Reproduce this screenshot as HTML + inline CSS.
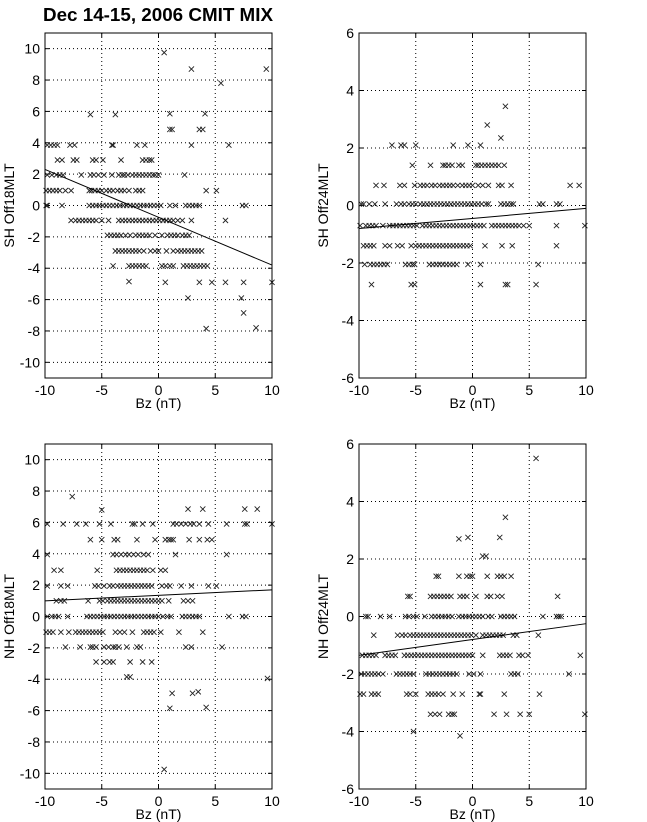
<!DOCTYPE html>
<html><head><meta charset="utf-8"><style>
html,body{margin:0;padding:0;background:#fff;}
svg{display:block;font-family:"Liberation Sans",Arial,sans-serif;}
</style></head><body>
<svg id="chart" width="647" height="822" viewBox="0 0 647 822" xmlns="http://www.w3.org/2000/svg">
<text x="43" y="21" font-size="18" font-weight="bold" textLength="230" lengthAdjust="spacingAndGlyphs">Dec 14-15, 2006 CMIT MIX</text>
</svg>
<script>
// ---------- Panel 1: SH Off18MLT ----------
const p1RowLevels=[3.85,2.9,1.95,0.95,0,-0.95,-1.9,-2.9,-3.85];
const p1RowXs=[
[-9.8,-9.5,-9.2,-8.9,-7.8,-7.4,-4.1,-4.0,-1.9,-1.2,2.9,6.2],
[-8.9,-8.5,-7.5,-7.2,-5.8,-5.5,-4.9,-3.3,-1.4,-1.1,-0.8,-0.6],
[-9.8,-9.4,-9.0,-8.7,-8.4,-6.8,-6.0,-5.7,-5.3,-4.8,-4.1,-3.5,-3.2,-3.0,-2.7,-2.3,-2.0,-1.7,-1.4,-1.1,-0.8,-0.5,-0.3,0.0,2.3],
[-9.9,-9.6,-9.3,-9.0,-8.7,-8.2,-7.7,-6.1,-5.9,-5.6,-5.3,-5.0,-4.6,-4.3,-4.0,-3.6,-3.3,-3.0,-2.6,-2.0,-1.7,-1.4,4.2,5.1],
[-9.9,-9.8,-8.5,-6.1,-5.8,-5.5,-5.2,-4.9,-4.6,-4.3,-4.0,-3.7,-3.4,-3.1,-2.8,-2.5,-2.2,-1.9,-1.6,-1.3,-1.0,-0.7,-0.4,-0.1,0.2,1.0,1.5,2.4,2.7,3.0,3.3,3.6,7.4,7.7],
[-7.7,-7.3,-7.0,-6.7,-6.4,-6.1,-5.8,-5.5,-5.0,-4.4,-3.5,-3.2,-2.9,-2.6,-2.3,-2.0,-1.7,-1.4,-1.1,-0.8,-0.5,-0.2,0.1,0.4,0.7,1.0,1.3,1.7,2.1,2.9,5.9],
[-4.5,-4.2,-3.9,-3.6,-3.3,-2.9,-2.5,-2.0,-1.7,-1.4,-1.1,-0.8,-0.3,0.3,0.8,1.1,1.4,1.7,2.1,2.4,2.7],
[-3.8,-3.5,-3.2,-2.9,-2.6,-2.3,-2.0,-1.7,-1.3,-0.7,-0.3,0.0,0.7,1.3,1.7,2.0,2.3,2.6,2.9,3.2,3.5,3.8],
[-4.0,-2.6,-2.3,-2.0,-1.7,-1.4,-1.1,0.3,0.6,1.0,1.3,2.2,2.5,2.8,3.1,3.4,3.7,4.0,4.3]];
const p1ExtraX=[-6,-3.8,1.0,4.1,1.0,1.2,3.6,3.9,0.5,2.9,9.5,5.5,-2.6,0.6,3.6,4.7,5.9,7.5,10,2.6,7.3,7.5,4.2,8.6];
const p1ExtraY=[5.8,5.8,5.85,5.85,4.85,4.85,4.85,4.85,9.75,8.7,8.7,7.8,-4.85,-4.9,-4.9,-4.9,-4.9,-4.9,-4.9,-5.9,-5.9,-6.85,-7.85,-7.8];
const p1Fit=[2.3,-3.8];
const p1YTicks=[-10,-8,-6,-4,-2,0,2,4,6,8,10];

// ---------- Panel 2: SH Off24MLT ----------
const p2RowLevels=[2.1,1.4,0.7,0.05,-0.7,-1.4,-2.05,-2.75];
const p2RowXs=[
[-7.1,-6.3,-6.0,-5.0,-1.7,-0.4,0.7],
[-5.3,-3.7,-2.6,-2.4,-2.1,-1.8,-1.2,-0.9,0.3,0.5,0.8,1.1,1.4,1.7,2.0,2.3,2.8],
[-8.5,-7.8,-6.4,-6.0,-5.1,-4.6,-4.3,-4.0,-3.6,-3.3,-2.9,-2.6,-2.3,-2.0,-1.7,-1.3,-0.9,-0.6,-0.3,0.0,0.5,0.9,1.4,2.3,2.6,3.4,8.6,9.4],
[-9.8,-9.6,-9.1,-8.6,-7.7,-6.7,-6.3,-6.0,-5.6,-5.3,-5.0,-4.6,-4.3,-4.0,-3.7,-3.4,-3.1,-2.8,-2.5,-2.2,-1.9,-1.6,-1.3,-1.0,-0.7,-0.4,-0.1,0.2,0.5,0.8,1.2,1.4,2.5,2.8,3.1,3.4,3.6,5.9,6.2,7.4,7.7],
[-9.9,-9.4,-9.1,-8.8,-8.5,-7.9,-7.3,-7.0,-6.7,-6.4,-6.1,-5.8,-5.5,-5.2,-4.9,-4.4,-4.1,-3.8,-3.5,-3.2,-2.9,-2.6,-2.3,-2.0,-1.7,-1.4,-1.1,-0.8,-0.5,-0.2,0.1,0.4,0.7,1.0,1.7,2.0,2.3,2.6,2.9,3.2,3.5,3.8,4.1,4.5,5.0,7.4,9.9],
[-9.6,-9.3,-9.0,-8.7,-7.7,-7.3,-6.6,-6.2,-5.4,-5.0,-4.7,-4.4,-4.1,-3.8,-3.5,-3.2,-2.9,-2.6,-2.3,-2.0,-1.7,-1.4,-1.1,-0.8,-0.5,-0.2,1.1,2.6,3.5,7.4],
[-9.5,-9.0,-8.7,-8.4,-8.1,-7.8,-7.5,-5.9,-5.6,-5.3,-5.1,-3.8,-3.5,-3.2,-2.9,-2.6,-2.3,-2.0,-1.7,-1.4,-0.4,0.7,5.8],
[-8.9,-5.4,-5.1,0.7,2.9,3.1,5.6]];
const p2ExtraX=[1.3,2.5,2.9];
const p2ExtraY=[2.8,2.35,3.45];
const p2Fit=[-0.8,-0.1];
const p2YTicks=[-6,-4,-2,0,2,4,6];

// ---------- Panel 3: NH Off18MLT ----------
const p3RowLevels=[5.9,4.9,3.95,2.95,1.95,1,0,-1,-1.95,-2.9];
const p3RowXs=[
[-9.8,-8.4,-7.2,-6.4,-5.2,-4.2,-2.3,-2.1,-1.4,-0.5,1.3,1.6,2.0,2.4,2.8,3.1,3.6,4.4,6.0,7.6,7.8,10],
[-6.0,-5.0,-3.9,-3.6,-1.9,-0.3,0.6,0.9,1.1,1.3,2.7,3.6,4.3,4.7],
[-9.8,-4.0,-3.7,-3.3,-2.9,-2.6,-2.2,-1.8,-1.3,-0.9,1.5,6.0],
[-9.2,-8.6,-5.4,-3.7,-3.4,-3.1,-2.8,-2.5,-2.2,-1.9,-1.6,-1.3,-1.0,-0.5,0.2,0.6],
[-9.8,-8.6,-8.0,-5.6,-5.3,-4.8,-4.3,-4.0,-3.6,-3.3,-3.0,-2.7,-2.4,-2.1,-1.8,-1.5,-1.2,-0.9,-0.6,0.3,0.7,1.0,2.0,2.9,4.4,5.1],
[-9.0,-8.6,-8.3,-6.2,-5.2,-4.9,-4.5,-4.2,-3.9,-3.6,-3.3,-3.0,-2.7,-2.4,-2.1,-1.8,-1.5,-1.2,-0.9,-0.6,-0.3,0.0,0.3,0.9,2.2,2.6,3.0],
[-9.8,-9.4,-9.1,-8.8,-8.0,-6.3,-6.0,-5.7,-5.4,-5.1,-4.8,-4.5,-4.2,-3.9,-3.6,-3.3,-3.0,-2.7,-2.4,-2.1,-1.8,-1.5,-1.2,-0.9,-0.6,-0.3,0.0,0.4,0.8,1.1,2.1,2.4,2.7,3.0,3.3,3.6,6.2,7.4,7.7],
[-9.9,-9.6,-9.3,-8.6,-7.9,-7.3,-7.0,-6.7,-6.4,-6.1,-5.8,-5.5,-5.2,-4.9,-3.8,-3.4,-3.0,-2.3,-1.3,-1.0,-0.7,-0.4,0.2,1.8,3.9],
[-8.2,-6.9,-6.0,-5.8,-5.5,-4.8,-4.4,-4.0,-3.8,-3.5,-2.8,-1.9,-1.6,2.4,2.9,5.6],
[-5.5,-4.8,-4.3,-4.0,-2.5,-1.4,-0.6]];
const p3ExtraX=[-7.6,-5,2.6,3.9,7.6,8.7,-2.8,-2.5,9.6,1.2,3.0,3.5,1.0,4.2,0.5];
const p3ExtraY=[7.65,6.8,6.85,6.85,6.85,6.85,-3.85,-3.85,-3.95,-4.9,-4.9,-4.8,-5.85,-5.8,-9.75];
const p3Fit=[1.0,1.7];
const p3YTicks=[-10,-8,-6,-4,-2,0,2,4,6,8,10];

// ---------- Panel 4: NH Off24MLT ----------
const p4RowLevels=[1.4,0.7,0,-0.65,-1.35,-2.0,-2.7,-3.4];
const p4RowXs=[
[-3.2,-3.0,-1.2,-0.5,-0.2,0.0,1.3,2.2,2.5,2.8,3.4],
[-5.7,-5.5,-3.7,-3.4,-3.1,-2.8,-2.5,-2.2,-1.9,-1.1,-0.8,-0.5,0.3,1.3,1.6,2.2,2.6,7.5],
[-9.4,-9.2,-8.1,-7.3,-5.9,-5.6,-5.2,-4.9,-4.2,-3.6,-3.3,-3.0,-2.7,-2.4,-2.1,-1.8,-1.2,-0.9,-0.6,-0.3,0.0,0.3,0.6,0.9,1.4,1.7,2.5,2.8,3.1,3.4,3.7,6.2,7.4,7.6,7.8],
[-8.7,-6.6,-6.2,-5.9,-5.5,-5.2,-4.9,-4.6,-4.3,-4.0,-3.7,-3.4,-3.1,-2.8,-2.5,-2.2,-1.9,-1.6,-1.3,-1.0,-0.7,-0.4,-0.1,0.3,0.9,1.2,1.5,1.8,2.1,2.4,2.7,3.6,3.9,5.8],
[-9.7,-9.4,-9.1,-8.8,-8.5,-7.7,-7.4,-7.1,-6.8,-6.0,-5.7,-5.4,-5.1,-4.8,-4.5,-4.2,-3.9,-3.6,-3.3,-3.0,-2.7,-2.4,-2.1,-1.8,-1.5,-1.2,-0.9,-0.6,-0.3,0.0,0.9,2.4,2.7,3.0,3.3,4.1,4.4,4.9,9.5],
[-9.8,-9.5,-9.2,-8.9,-8.6,-8.3,-7.9,-6.7,-6.4,-6.1,-5.8,-5.5,-5.2,-4.1,-3.8,-3.5,-3.2,-2.9,-2.6,-2.3,-2.0,-1.7,-1.4,-0.3,0.1,0.7,3.4,3.7,4.0,8.5],
[-9.9,-9.6,-8.9,-8.6,-8.3,-5.8,-5.5,-5.0,-3.9,-3.6,-3.3,-3.0,-2.6,-1.7,-0.9,0.6,0.7,2.8,5.9],
[-3.7,-3.3,-2.9,-2.1,-1.8,-1.6,1.9,3.0,4.2,5.0,9.9]];
const p4ExtraX=[5.6,2.9,-1.2,-0.4,2.4,0.9,1.2,-5.2,-1.1];
const p4ExtraY=[5.5,3.45,2.7,2.75,2.75,2.1,2.1,-4.0,-4.15];
const p4Fit=[-1.35,-0.25];
const p4YTicks=[-6,-4,-2,0,2,4,6];

const xTicks=[-10,-5,0,5,10];

const NS="http://www.w3.org/2000/svg";
const svg=document.getElementById('chart');
function mk(tag,attrs,parent){const e=document.createElementNS(NS,tag);for(const k in attrs)e.setAttribute(k,attrs[k]);(parent||svg).appendChild(e);return e;}

function panel(cfg){
  const {L,R,T,B,ymin,ymax,rowLevels,rowXs,exX,exY,fit,yTicks,ylabel,key}=cfg;
  const sx=v=>L+(v-(-10))/20*(R-L);
  const sy=v=>B-(v-ymin)/(ymax-ymin)*(B-T);
  const g=mk('g',{});
  
  
  xTicks.forEach(t=>{
    const l=mk('line',{x1:sx(t),x2:sx(t),y1:T,y2:B,stroke:'#000','stroke-width':1,'stroke-dasharray':'1,3'},g);
    
    
    const tx=mk('text',{x:sx(t),y:B+17,'font-size':14,'text-anchor':'middle'},g);
    
    
    tx.textContent=t;
    mk('line',{x1:sx(t),x2:sx(t),y1:B,y2:B-4,stroke:'#000'},g);
    mk('line',{x1:sx(t),x2:sx(t),y1:T,y2:T+4,stroke:'#000'},g);
  });
  yTicks.forEach(t=>{
    const l=mk('line',{x1:L,x2:R,y1:sy(t),y2:sy(t),stroke:'#000','stroke-width':1,'stroke-dasharray':'1,3'},g);
    
    
    const tx=mk('text',{x:L-5,y:sy(t)+5,'font-size':14,'text-anchor':'end'},g);
    
    
    tx.textContent=t;
    mk('line',{x1:L,x2:L+4,y1:sy(t),y2:sy(t),stroke:'#000'},g);
    mk('line',{x1:R,x2:R-4,y1:sy(t),y2:sy(t),stroke:'#000'},g);
  });
  const pts=[];
  rowLevels.forEach((lv,i)=>rowXs[i].forEach(x=>pts.push([x,lv])));
  exX.forEach((x,i)=>pts.push([x,exY[i]]));
  const pg=mk('g',{stroke:'#222','stroke-width':0.9},g);
  
  
  pts.forEach(p=>{
    const cx=sx(p[0]),cy=sy(p[1]),r=2.6;
    const m=mk('path',{d:`M${cx-r},${cy-r}L${cx+r},${cy+r}M${cx-r},${cy+r}L${cx+r},${cy-r}`},pg);
    
    
  });
  const fl=mk('line',{x1:sx(-10),y1:sy(fit[0]),x2:sx(10),y2:sy(fit[1]),stroke:'#000','stroke-width':1},g);
  
  
  const bx=mk('rect',{x:L,y:T,width:R-L,height:B-T,fill:'none',stroke:'#000','stroke-width':1},g);
  
  
  const xl=mk('text',{x:(L+R)/2,y:B+30,'font-size':14,'text-anchor':'middle'},g);
  
  
  xl.textContent='Bz (nT)';
  const yx=L-31,yy=(T+B)/2;
  const yl=mk('text',{x:yx,y:yy,'font-size':14,'text-anchor':'middle',transform:`rotate(-90 ${yx} ${yy})`},g);
  
  
  yl.textContent=ylabel;
}
panel({key:'sh-off18mlt',L:45,R:272,T:33,B:378,ymin:-11,ymax:11,rowLevels:p1RowLevels,rowXs:p1RowXs,exX:p1ExtraX,exY:p1ExtraY,fit:p1Fit,yTicks:p1YTicks,ylabel:'SH Off18MLT'});
panel({key:'sh-off24mlt',L:359,R:586,T:33,B:378,ymin:-6,ymax:6,rowLevels:p2RowLevels,rowXs:p2RowXs,exX:p2ExtraX,exY:p2ExtraY,fit:p2Fit,yTicks:p2YTicks,ylabel:'SH Off24MLT'});
panel({key:'nh-off18mlt',L:45,R:272,T:444,B:789,ymin:-11,ymax:11,rowLevels:p3RowLevels,rowXs:p3RowXs,exX:p3ExtraX,exY:p3ExtraY,fit:p3Fit,yTicks:p3YTicks,ylabel:'NH Off18MLT'});
panel({key:'nh-off24mlt',L:359,R:586,T:444,B:789,ymin:-6,ymax:6,rowLevels:p4RowLevels,rowXs:p4RowXs,exX:p4ExtraX,exY:p4ExtraY,fit:p4Fit,yTicks:p4YTicks,ylabel:'NH Off24MLT'});
</script>
</body></html>
